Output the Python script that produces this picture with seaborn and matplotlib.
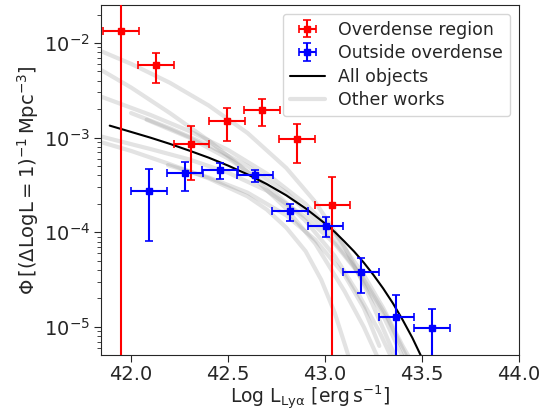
import numpy as np
import pandas as pd
import matplotlib
matplotlib.use("Agg")
import matplotlib.pyplot as plt
from matplotlib.lines import Line2D
import seaborn as sns

# ---------------- data ----------------
# Overdense region
over_x = [41.947, 42.129, 42.311, 42.493, 42.675, 42.857, 43.038]
over_y = [1.34e-2, 5.8e-3, 8.5e-4, 1.50e-3, 1.96e-3, 9.7e-4, 1.93e-4]
over_lo = [1.0e-7, 3.75e-3, 3.57e-4, 9.2e-4, 1.34e-3, 5.37e-4, 1.0e-7]
over_hi = [1.0, 7.9e-3, 1.33e-3, 2.04e-3, 2.58e-3, 1.40e-3, 3.85e-4]
over_xerr = [0.092, 0.092, 0.092, 0.092, 0.092, 0.092, 0.092]

# Outside overdense
out_x = [42.093, 42.277, 42.459, 42.639, 42.821, 43.003, 43.186, 43.368, 43.550]
out_y = [2.74e-4, 4.2e-4, 4.59e-4, 4.01e-4, 1.68e-4, 1.18e-4, 3.85e-5, 1.26e-5, 9.7e-6]
out_lo = [8.1e-5, 2.74e-4, 3.63e-4, 3.40e-4, 1.33e-4, 9.0e-5, 2.27e-5, 1.0e-7, 1.0e-7]
out_hi = [4.67e-4, 5.58e-4, 5.45e-4, 4.53e-4, 2.0e-4, 1.44e-4, 5.4e-5, 2.16e-5, 1.54e-5]
out_xerr = [0.092, 0.092, 0.092, 0.092, 0.092, 0.092, 0.092, 0.092, 0.092]

# All objects (curve)
all_x = [41.89, 42.0, 42.1, 42.2, 42.3, 42.4, 42.5, 42.6, 42.7, 42.8, 42.9, 43.0,
         43.05, 43.1, 43.15, 43.2, 43.25, 43.3, 43.35, 43.4, 43.45, 43.5]
all_y = [1.34e-3, 1.15e-3, 1.0e-3, 8.6e-4, 7.3e-4, 6.15e-4, 5.07e-4, 4.10e-4, 3.23e-4,
         2.46e-4, 1.79e-4, 1.24e-4, 1.01e-4, 8.0e-5, 6.27e-5, 4.78e-5, 3.54e-5,
         2.55e-5, 1.78e-5, 1.19e-5, 7.7e-6, 4.7e-6]

# Other works (log10 Phi)
ow1_x = [41.85, 42.0, 42.2, 42.4, 42.6, 42.8, 42.95, 43.1, 43.2, 43.3, 43.38]
ow1_l = [-2.09, -2.22, -2.42, -2.66, -2.95, -3.32, -3.68, -4.15, -4.55, -5.02, -5.4]
ow2_x = [41.85, 42.0, 42.2, 42.4, 42.6, 42.8, 42.95, 43.1, 43.2, 43.3]
ow2_l = [-2.29, -2.47, -2.74, -3.03, -3.36, -3.75, -4.12, -4.62, -5.0, -5.45]
ow3_x = [41.85, 42.1, 42.3, 42.5, 42.7, 42.9, 43.05, 43.2, 43.3, 43.4, 43.47]
ow3_l = [-2.57, -2.76, -2.93, -3.13, -3.38, -3.70, -4.02, -4.45, -4.8, -5.2, -5.45]
ow4_x = [42.0, 42.2, 42.4, 42.6, 42.8, 43.0, 43.15, 43.3, 43.42]
ow4_l = [-2.74, -2.90, -3.08, -3.30, -3.58, -3.97, -4.36, -4.88, -5.4]
ow5_x = [42.08, 42.3, 42.5, 42.7, 42.9, 43.05, 43.18, 43.28, 43.36]
ow5_l = [-2.81, -3.0, -3.22, -3.50, -3.88, -4.25, -4.68, -5.05, -5.4]
ow6_x = [41.85, 42.1, 42.3, 42.5, 42.7, 42.9, 43.05, 43.2, 43.32, 43.44]
ow6_l = [-2.99, -3.12, -3.23, -3.37, -3.56, -3.84, -4.12, -4.5, -4.9, -5.4]
ow7_x = [41.85, 42.0, 42.2, 42.4, 42.6, 42.7, 42.8, 42.9, 42.98, 43.05, 43.12]
ow7_l = [-3.05, -3.14, -3.28, -3.43, -3.62, -3.76, -3.95, -4.2, -4.5, -4.85, -5.3]
ow8_x = [42.19, 42.4, 42.6, 42.8, 42.95, 43.1, 43.2, 43.28]
ow8_l = [-3.29, -3.42, -3.58, -3.82, -4.08, -4.45, -4.8, -5.2]

x_ticks = [42.0, 42.5, 43.0, 43.5, 44.0]

# ---------------- plotting ----------------
sns.set_style("ticks")
plt.rcParams['font.family'] = ['DejaVu Sans']

fig = plt.figure(figsize=(5.53, 4.11), dpi=100)
ax = fig.add_axes([101 / 553, 1 - 355 / 411, (519 - 101) / 553, (355 - 5) / 411])

ow_sets = [(ow1_x, ow1_l), (ow2_x, ow2_l), (ow3_x, ow3_l), (ow4_x, ow4_l),
           (ow5_x, ow5_l), (ow6_x, ow6_l), (ow7_x, ow7_l), (ow8_x, ow8_l)]
rows = []
for i, (xs, ls) in enumerate(ow_sets):
    for xv, lv in zip(xs, ls):
        rows.append({"curve": i, "x": xv, "phi": 10 ** lv})
df_ow = pd.DataFrame(rows)
sns.lineplot(data=df_ow, x="x", y="phi", units="curve", estimator=None, sort=False,
             color="grey", alpha=0.22, lw=3, legend=False, ax=ax)

df_all = pd.DataFrame({"x": all_x, "phi": all_y})
sns.lineplot(data=df_all, x="x", y="phi", color="black", lw=1.5, ax=ax,
             sort=False, estimator=None)

oy = np.array(over_y)
ax.errorbar(over_x, over_y, xerr=over_xerr,
            yerr=[oy - np.array(over_lo), np.array(over_hi) - oy],
            fmt="s", ms=4, color="red", ecolor="red", elinewidth=1.5,
            capsize=3, capthick=1.2, label="Overdense region", zorder=5)
uy = np.array(out_y)
ax.errorbar(out_x, out_y, xerr=out_xerr,
            yerr=[uy - np.array(out_lo), np.array(out_hi) - uy],
            fmt="s", ms=4, color="blue", ecolor="blue", elinewidth=1.5,
            capsize=3, capthick=1.2, label="Outside overdense", zorder=5)

ax.set_yscale("log")
ax.set_xlim(41.845, 44.0)
ax.set_ylim(5.06e-6, 2.52e-2)
ax.set_xticks(x_ticks)
ax.set_xticklabels([f"{t:.1f}" for t in x_ticks])
ax.tick_params(axis="both", which="major", labelsize=14, length=5, pad=3)
ax.tick_params(axis="x", which="major", pad=2)
ax.tick_params(axis="y", which="minor", length=3)

ax.set_xlabel(r"$\mathrm{Log\ L_{Ly\alpha}\ [erg\,s^{-1}]}$", fontsize=13.5, labelpad=0)
ax.set_ylabel(r"$\Phi\,[(\Delta \mathrm{LogL}=1)^{-1}\,\mathrm{Mpc}^{-3}]$", fontsize=14,
              labelpad=2)

handles, labels = ax.get_legend_handles_labels()
eh = [h for h, l in zip(handles, labels) if l in ("Overdense region", "Outside overdense")]
h_all = Line2D([], [], color="black", lw=1.5)
h_ow = Line2D([], [], color="grey", alpha=0.22, lw=3)
ax.legend(eh + [h_all, h_ow],
          ["Overdense region", "Outside overdense", "All objects", "Other works"],
          loc="upper right", fontsize=12.5, frameon=True, labelspacing=0.32,
          handlelength=2.0, borderaxespad=0.5)

for s in ax.spines.values():
    s.set_visible(True)

fig.savefig("out.png", dpi=100)
